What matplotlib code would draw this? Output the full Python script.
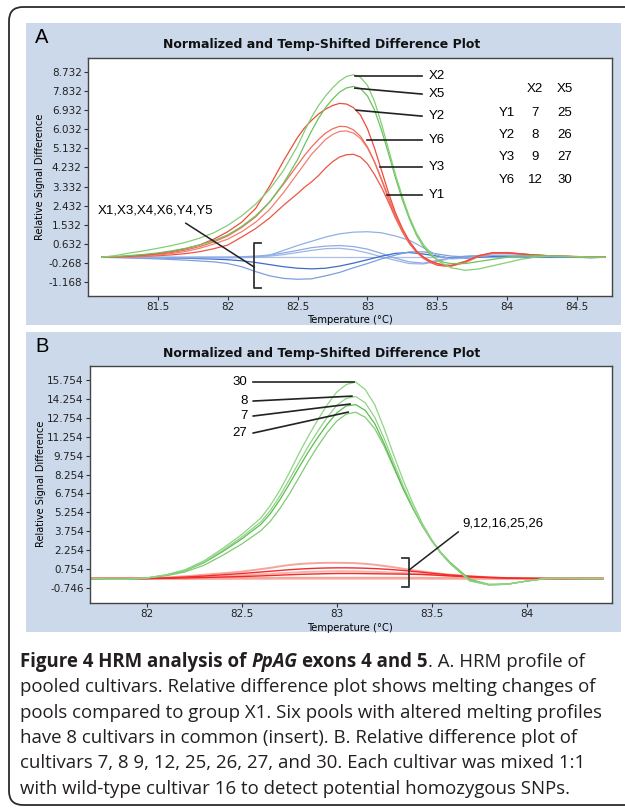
import matplotlib
matplotlib.use('Agg')
import matplotlib.pyplot as plt
from matplotlib.patches import FancyBboxPatch, Rectangle

# ---------------- panel A : pooled cultivars ----------------
temp_a_fine = [81.1, 81.2, 81.3, 81.4, 81.5, 81.6, 81.7, 81.8, 81.9, 82.0, 82.1, 82.2, 82.3, 82.4,
               82.5, 82.55, 82.6, 82.65, 82.7, 82.75, 82.8, 82.85, 82.9, 82.95, 83.0, 83.05, 83.1,
               83.15, 83.2, 83.25, 83.3, 83.35, 83.4, 83.45, 83.5, 83.55, 83.6,
               83.7, 83.8, 83.9, 84.0, 84.1, 84.2, 84.3, 84.4, 84.5, 84.6, 84.7]

x2 = [0.0, 0.08, 0.2, 0.3, 0.42, 0.55, 0.7, 0.9, 1.15, 1.5, 1.95, 2.5, 3.2, 4.1,
      5.25, 5.95, 6.6, 7.15, 7.6, 7.98, 8.3, 8.52, 8.6, 8.48, 8.1, 7.35, 6.3,
      5.1, 3.9, 2.85, 1.9, 1.15, 0.6, 0.2, -0.15, -0.35, -0.5,
      -0.62, -0.55, -0.4, -0.25, -0.1, 0.0, 0.05, 0.05, 0.03, 0.0, 0.0]
x5 = [0.0, 0.03, 0.08, 0.13, 0.2, 0.3, 0.42, 0.58, 0.78, 1.05, 1.45, 1.95, 2.6, 3.5,
      4.6, 5.3, 5.95, 6.55, 7.05, 7.45, 7.78, 7.98, 8.05, 7.95, 7.6, 6.95, 6.0,
      4.9, 3.75, 2.7, 1.8, 1.05, 0.5, 0.1, -0.12, -0.25, -0.3,
      -0.3, -0.2, -0.1, 0.0, 0.05, 0.08, 0.06, 0.04, 0.02, 0.0, 0.0]
y2 = [0.0, 0.02, 0.05, 0.1, 0.17, 0.27, 0.4, 0.58, 0.85, 1.2, 1.65, 2.3, 3.35, 4.55,
      5.65, 6.1, 6.45, 6.75, 6.98, 7.15, 7.25, 7.22, 7.05, 6.7, 6.05, 5.15, 4.1,
      3.05, 2.1, 1.35, 0.75, 0.3, 0.0, -0.18, -0.3, -0.38, -0.4,
      -0.2, 0.08, 0.22, 0.2, 0.15, 0.1, 0.07, 0.05, 0.03, 0.01, 0.0]
y6 = [0.0, 0.02, 0.04, 0.08, 0.14, 0.22, 0.34, 0.5, 0.72, 1.0, 1.4, 1.9, 2.6, 3.45,
      4.35, 4.8, 5.2, 5.55, 5.85, 6.05, 6.17, 6.15, 6.0, 5.7, 5.2, 4.5, 3.65,
      2.75, 1.9, 1.2, 0.65, 0.25, -0.02, -0.2, -0.32, -0.38, -0.38,
      -0.2, 0.08, 0.2, 0.2, 0.15, 0.1, 0.07, 0.04, 0.02, 0.01, 0.0]
y3 = [0.0, 0.01, 0.03, 0.06, 0.1, 0.17, 0.27, 0.42, 0.62, 0.85, 1.2, 1.65, 2.25, 3.05,
      3.95, 4.4, 4.85, 5.2, 5.55, 5.78, 5.93, 5.95, 5.85, 5.6, 5.15, 4.5, 3.7,
      2.85, 2.0, 1.3, 0.72, 0.3, 0.02, -0.18, -0.3, -0.38, -0.4,
      -0.25, 0.05, 0.18, 0.18, 0.14, 0.1, 0.06, 0.04, 0.02, 0.01, 0.0]
y1 = [0.0, 0.01, 0.02, 0.04, 0.07, 0.11, 0.17, 0.26, 0.4, 0.57, 0.95, 1.35, 1.85, 2.45,
      3.0, 3.3, 3.55, 3.85, 4.2, 4.5, 4.72, 4.83, 4.85, 4.72, 4.4, 3.9, 3.3,
      2.6, 1.85, 1.2, 0.65, 0.25, -0.05, -0.25, -0.38, -0.42, -0.42,
      -0.25, 0.05, 0.2, 0.22, 0.16, 0.1, 0.06, 0.04, 0.02, 0.01, 0.0]

temp_a = [81.1, 81.2, 81.3, 81.4, 81.5, 81.6, 81.7, 81.8, 81.9, 82.0, 82.1, 82.2, 82.3,
          82.4, 82.5, 82.6, 82.7, 82.8, 82.9, 83.0, 83.1, 83.2, 83.3, 83.4, 83.5, 83.6,
          83.7, 83.8, 83.9, 84.0, 84.1, 84.2, 84.3, 84.4, 84.5, 84.6, 84.7]
x1 = [0.0, 0.0, 0.0, 0.0, 0.0, 0.0, 0.0, 0.0, 0.0, 0.0, 0.0, 0.0, 0.0,
      0.0, 0.0, 0.0, 0.0, 0.0, 0.0, 0.0, 0.0, 0.0, 0.0, 0.0, 0.0, 0.0,
      0.0, 0.0, 0.0, 0.0, 0.0, 0.0, 0.0, 0.0, 0.0, 0.0, 0.0]
x3 = [0.0, 0.0, -0.01, -0.02, -0.02, -0.03, -0.03, -0.03, -0.03, -0.03, -0.02, 0.0, 0.1,
      0.32, 0.55, 0.75, 0.95, 1.1, 1.18, 1.2, 1.15, 1.0, 0.8, 0.45, 0.08, -0.08,
      -0.05, 0.04, 0.1, 0.1, 0.08, 0.06, 0.04, 0.03, 0.02, 0.0, 0.0]
x4 = [0.0, 0.0, 0.0, -0.01, -0.01, -0.01, -0.01, 0.0, 0.0, 0.0, 0.02, 0.05, 0.1,
      0.2, 0.32, 0.45, 0.52, 0.55, 0.5, 0.38, 0.18, -0.05, -0.22, -0.28, -0.15, -0.02,
      0.05, 0.08, 0.07, 0.05, 0.04, 0.03, 0.02, 0.01, 0.0, -0.02, 0.0]
x6 = [0.0, 0.0, 0.0, 0.0, 0.0, 0.0, 0.0, 0.0, 0.0, 0.0, 0.0, 0.02, 0.05,
      0.12, 0.22, 0.32, 0.4, 0.42, 0.35, 0.2, 0.02, -0.15, -0.3, -0.32, -0.2, -0.05,
      0.03, 0.06, 0.05, 0.04, 0.03, 0.02, 0.01, 0.0, 0.0, -0.03, 0.0]
y4 = [0.0, -0.02, -0.04, -0.06, -0.08, -0.11, -0.14, -0.18, -0.22, -0.3, -0.45, -0.68, -0.88,
      -1.0, -1.04, -1.02, -0.88, -0.72, -0.5, -0.3, -0.08, 0.1, 0.25, 0.25, 0.15, 0.05,
      0.02, 0.05, 0.08, 0.06, 0.04, 0.03, 0.02, 0.01, 0.0, -0.02, 0.0]
y5 = [0.0, 0.0, -0.01, -0.02, -0.03, -0.04, -0.05, -0.07, -0.09, -0.12, -0.17, -0.25, -0.35,
      -0.45, -0.52, -0.55, -0.52, -0.42, -0.28, -0.12, 0.05, 0.18, 0.22, 0.15, 0.05, -0.05,
      -0.05, 0.0, 0.03, 0.03, 0.02, 0.01, 0.0, 0.0, 0.0, 0.0, 0.0]

yticks_a = [-1.168, -0.268, 0.632, 1.532, 2.432, 3.332, 4.232, 5.132, 6.032, 6.932, 7.832, 8.732]
ytick_labels_a = ['-1.168', '-0.268', '0.632', '1.532', '2.432', '3.332', '4.232', '5.132',
                  '6.032', '6.932', '7.832', '8.732']
xticks_a = [81.5, 82, 82.5, 83, 83.5, 84, 84.5]
xtick_labels_a = ['81.5', '82', '82.5', '83', '83.5', '84', '84.5']

# insert table (pool -> cultivars)
table_cols = ['X2', 'X5']
table_rows = ['Y1', 'Y2', 'Y3', 'Y6']
table_vals = [['7', '25'], ['8', '26'], ['9', '27'], ['12', '30']]

# ---------------- panel B : single cultivars ----------------
temp_b = [81.7, 81.8, 81.9, 82.0, 82.1, 82.2, 82.3, 82.4, 82.5, 82.6,
          82.65, 82.7, 82.75, 82.8, 82.85, 82.9, 82.95, 83.0, 83.05, 83.1,
          83.15, 83.2, 83.25, 83.3, 83.35, 83.4, 83.45, 83.5, 83.55, 83.6,
          83.7, 83.8, 83.9, 84.0, 84.1, 84.2, 84.3, 84.4]
c30 = [0.0, -0.05, -0.05, 0.05, 0.3, 0.7, 1.4, 2.4, 3.5, 4.8,
       5.8, 7.0, 8.4, 9.9, 11.3, 12.6, 13.8, 14.8, 15.4, 15.6,
       15.0, 13.8, 11.9, 9.8, 7.8, 6.0, 4.4, 3.1, 2.0, 1.15,
       -0.2, -0.5, -0.45, -0.2, 0.0, 0.02, 0.0, 0.0]
c8 = [0.0, -0.05, -0.05, 0.05, 0.28, 0.65, 1.3, 2.25, 3.3, 4.5,
      5.4, 6.55, 7.85, 9.2, 10.5, 11.7, 12.8, 13.75, 14.3, 14.45,
      13.95, 12.8, 11.1, 9.2, 7.35, 5.7, 4.25, 3.0, 1.95, 1.15,
      -0.15, -0.5, -0.45, -0.2, 0.0, 0.02, 0.0, 0.0]
c7 = [0.0, -0.05, -0.05, 0.05, 0.27, 0.62, 1.25, 2.15, 3.15, 4.3,
      5.15, 6.25, 7.5, 8.8, 10.05, 11.2, 12.25, 13.15, 13.7, 13.8,
      13.35, 12.3, 10.7, 8.9, 7.15, 5.6, 4.2, 3.0, 2.0, 1.2,
      -0.1, -0.5, -0.45, -0.2, 0.0, 0.02, 0.0, 0.0]
c27 = [0.0, -0.05, -0.05, 0.04, 0.22, 0.52, 1.05, 1.85, 2.75, 3.8,
       4.55, 5.55, 6.7, 8.0, 9.3, 10.5, 11.6, 12.5, 13.05, 13.2,
       12.8, 11.9, 10.5, 8.8, 7.1, 5.6, 4.25, 3.05, 2.05, 1.25,
       -0.05, -0.45, -0.42, -0.2, 0.0, 0.02, 0.0, 0.0]
r_a = [0.0, 0.0, 0.0, 0.0, 0.08, 0.18, 0.3, 0.42, 0.55, 0.75,
       0.85, 0.97, 1.07, 1.15, 1.2, 1.23, 1.25, 1.25, 1.24, 1.22,
       1.17, 1.1, 1.0, 0.9, 0.78, 0.66, 0.56, 0.47, 0.38, 0.3,
       0.2, 0.1, 0.04, 0.02, 0.0, 0.0, 0.0, 0.0]
r_b = [0.0, 0.0, 0.0, 0.0, 0.05, 0.12, 0.2, 0.3, 0.4, 0.52,
       0.58, 0.64, 0.7, 0.75, 0.79, 0.82, 0.84, 0.85, 0.85, 0.84,
       0.82, 0.79, 0.75, 0.7, 0.64, 0.57, 0.5, 0.42, 0.35, 0.28,
       0.18, 0.1, 0.05, 0.02, 0.0, 0.0, 0.0, 0.0]
r_c = [0.0, 0.0, 0.0, 0.0, 0.04, 0.08, 0.13, 0.19, 0.26, 0.34,
       0.38, 0.42, 0.46, 0.5, 0.53, 0.55, 0.57, 0.58, 0.58, 0.57,
       0.55, 0.53, 0.5, 0.47, 0.44, 0.4, 0.36, 0.31, 0.26, 0.21,
       0.13, 0.07, 0.03, 0.01, 0.0, 0.0, 0.0, 0.0]
r_d = [0.0, 0.0, 0.0, 0.0, 0.02, 0.05, 0.08, 0.12, 0.16, 0.21,
       0.24, 0.27, 0.3, 0.33, 0.35, 0.37, 0.39, 0.4, 0.4, 0.4,
       0.39, 0.38, 0.37, 0.36, 0.35, 0.34, 0.32, 0.29, 0.25, 0.21,
       0.13, 0.07, 0.03, 0.01, 0.0, 0.0, 0.0, 0.0]
r_e = [0.0, 0.0, 0.0, 0.0, 0.0, 0.0, 0.01, 0.01, 0.02, 0.02,
       0.02, 0.03, 0.03, 0.03, 0.03, 0.03, 0.03, 0.03, 0.03, 0.03,
       0.03, 0.03, 0.03, 0.03, 0.03, 0.03, 0.03, 0.02, 0.02, 0.02,
       0.01, 0.01, 0.0, 0.0, 0.0, 0.0, 0.0, 0.0]

yticks_b = [-0.746, 0.754, 2.254, 3.754, 5.254, 6.754, 8.254, 9.754, 11.254, 12.754, 14.254, 15.754]
ytick_labels_b = ['-0.746', '0.754', '2.254', '3.754', '5.254', '6.754', '8.254', '9.754',
                  '11.254', '12.754', '14.254', '15.754']
xticks_b = [82, 82.5, 83, 83.5, 84]
xtick_labels_b = ['82', '82.5', '83', '83.5', '84']

caption_lines = [
    'pooled cultivars. Relative difference plot shows melting changes of',
    'pools compared to group X1. Six pools with altered melting profiles',
    'have 8 cultivars in common (insert). B. Relative difference plot of',
    'cultivars 7, 8 9, 12, 25, 26, 27, and 30. Each cultivar was mixed 1:1',
    'with wild-type cultivar 16 to detect potential homozygous SNPs.',
]

panel_bg = '#cbd9ea'
lab_font = 'Liberation Sans'

fig = plt.figure(figsize=(6.25, 8.09), dpi=100)

# pixel-coordinate background layer
bg = fig.add_axes([0, 0, 1, 1])
bg.set_xlim(0, 625)
bg.set_ylim(809, 0)
bg.axis('off')
bg.add_patch(FancyBboxPatch((9, 7), 700, 798, boxstyle='round,pad=0,rounding_size=14',
                            fc='white', ec='#2b2b2b', lw=1.3, clip_on=True))
bg.add_patch(Rectangle((26, 23), 595, 302, fc=panel_bg, ec='none'))
bg.add_patch(Rectangle((26, 332), 595, 300, fc=panel_bg, ec='none'))


def style_axes(ax, xt, xtl, yt, ytl):
    ax.set_xticks(xt)
    ax.set_xticklabels(xtl)
    ax.set_yticks(yt)
    ax.set_yticklabels(ytl)
    ax.tick_params(direction='out', length=3, width=0.8, labelsize=7.5, pad=1.5,
                   colors='#333333', labelcolor='#222222')
    for s in ax.spines.values():
        s.set_color('#444444')
        s.set_linewidth(1.0)


def bracket(ax, x, y0, y1, dx):
    ax.plot([x + dx, x, x, x + dx], [y0, y0, y1, y1], color='#333333', lw=1.3)


# ----- panel A -----
axA = fig.add_axes([88 / 625, 1 - 296 / 809, 524 / 625, 238 / 809])
axA.set_xlim(81.0, 84.75)
axA.set_ylim(-1.83, 9.39)
style_axes(axA, xticks_a, xtick_labels_a, yticks_a, ytick_labels_a)

lw = 0.9
axA.plot(temp_a, x1, color='#a9bfe9', lw=lw)
axA.plot(temp_a, x6, color='#9db6e6', lw=lw)
axA.plot(temp_a, x4, color='#8fabe3', lw=lw)
axA.plot(temp_a, y5, color='#3d6cc8', lw=lw)
axA.plot(temp_a, y4, color='#7e9fdd', lw=lw)
axA.plot(temp_a, x3, color='#8fb0e8', lw=lw)
axA.plot(temp_a_fine, y1, color='#ee5544', lw=lw)
axA.plot(temp_a_fine, y3, color='#f0806f', lw=lw)
axA.plot(temp_a_fine, y6, color='#f36b5c', lw=lw)
axA.plot(temp_a_fine, y2, color='#ef4b3c', lw=lw)
axA.plot(temp_a_fine, x5, color='#6cc35c', lw=lw)
axA.plot(temp_a_fine, x2, color='#83cf74', lw=lw)

# leader lines for the pool labels
a_labels = [('X2', 82.91, 8.53, 8.53), ('X5', 82.91, 7.97, 7.69), ('Y2', 82.92, 6.93, 6.65),
            ('Y6', 83.0, 5.52, 5.52), ('Y3', 83.09, 4.24, 4.24), ('Y1', 83.14, 2.92, 2.92)]
for name, xs, ys, ye in a_labels:
    axA.plot([xs, 83.39], [ys, ye], color='#222222', lw=1.2)
    axA.text(83.44, ye, name, fontsize=9.5, family=lab_font, va='center', ha='left')

for j, c in enumerate(table_cols):
    axA.text([84.2, 84.41][j], 7.92, c, fontsize=9.5, family=lab_font, ha='center', va='center')
for i, r in enumerate(table_rows):
    yy = [6.79, 5.75, 4.71, 3.63][i]
    axA.text(84.0, yy, r, fontsize=9.5, family=lab_font, ha='center', va='center')
    axA.text(84.2, yy, table_vals[i][0], fontsize=9.5, family=lab_font, ha='center', va='center')
    axA.text(84.41, yy, table_vals[i][1], fontsize=9.5, family=lab_font, ha='center', va='center')

bracket(axA, 82.19, 0.66, -1.46, 0.05)
axA.plot([81.7, 82.19], [1.6, -0.47], color='#222222', lw=1.1)
axA.text(81.07, 2.22, 'X1,X3,X4,X6,Y4,Y5', fontsize=9.5, family=lab_font, va='center', ha='left')

# ----- panel B -----
axB = fig.add_axes([90 / 625, 1 - 603 / 809, 522 / 625, 237 / 809])
axB.set_xlim(81.7, 84.45)
axB.set_ylim(-1.94, 16.87)
style_axes(axB, xticks_b, xtick_labels_b, yticks_b, ytick_labels_b)

axB.plot(temp_b, r_e, color='#f5a79e', lw=2.0)
axB.plot(temp_b, r_c, color='#f6b1a8', lw=1.4)
axB.plot(temp_b, r_a, color='#f4a59c', lw=1.4)
axB.plot(temp_b, r_d, color='#f02828', lw=1.0)
axB.plot(temp_b, r_b, color='#f52a2a', lw=1.0)
axB.plot(temp_b, c27, color='#7fcb72', lw=lw)
axB.plot(temp_b, c7, color='#5dbb52', lw=lw)
axB.plot(temp_b, c8, color='#8fd484', lw=lw)
axB.plot(temp_b, c30, color='#8fd484', lw=lw)

b_labels = [('30', 15.6, 15.6, 83.09), ('8', 14.09, 14.48, 83.08),
            ('7', 12.9, 13.85, 83.07), ('27', 11.55, 13.21, 83.06)]
for name, ys, ye, xe in b_labels:
    axB.plot([82.56, xe], [ys, ye], color='#222222', lw=1.2)
    axB.text(82.53, ys, name, fontsize=9.5, family=lab_font, va='center', ha='right')

bracket(axB, 83.38, 1.63, -0.67, -0.035)
axB.plot([83.64, 83.38], [3.7, 0.67], color='#222222', lw=1.1)
axB.text(83.66, 4.4, '9,12,16,25,26', fontsize=9.5, family=lab_font, va='center', ha='left')

# ----- panel texts -----
for top, letter in [(43, 'A'), (352, 'B')]:
    bg.text(35, top, letter, fontsize=14.5, family=lab_font, va='baseline', ha='left')
for ty in (44, 353):
    bg.text(322, ty, 'Normalized and Temp-Shifted Difference Plot', fontsize=9,
            fontweight='bold', ha='center', va='center', color='#111111')
bg.text(40, 177, 'Relative Signal Difference', fontsize=7, rotation=90, ha='center', va='center')
bg.text(41, 484, 'Relative Signal Difference', fontsize=7, rotation=90, ha='center', va='center')
bg.text(350, 320, 'Temperature (\u00b0C)', fontsize=7.2, ha='center', va='center')
bg.text(350, 628, 'Temperature (\u00b0C)', fontsize=7.2, ha='center', va='center')

# ----- caption -----
cap_font = 'Open Sans'
cap_size = 13.4
renderer = fig.canvas.get_renderer()


def width_of(s, **kw):
    t = bg.text(0, 0, s, fontsize=cap_size, family=cap_font, **kw)
    w = t.get_window_extent(renderer=renderer).width
    t.remove()
    return w


space = width_of('a a') - width_of('aa')
pieces = [('Figure 4 HRM analysis of', dict(fontweight='bold')),
          ('PpAG', dict(fontweight='bold', fontstyle='italic')),
          ('exons 4 and 5', dict(fontweight='bold')),
          ('. A. HRM profile of', dict())]
xpos = 20
for k, (s, kw) in enumerate(pieces):
    t = bg.text(xpos, 667, s, fontsize=cap_size, family=cap_font, va='baseline', ha='left',
                color='#231f20', **kw)
    xpos += t.get_window_extent(renderer=renderer).width
    if k < 2:
        xpos += space
for i, line in enumerate(caption_lines):
    bg.text(20, 692.5 + 25.3 * i, line, fontsize=cap_size, family=cap_font, va='baseline',
            ha='left', color='#231f20')

fig.savefig('out.png', dpi=100)
